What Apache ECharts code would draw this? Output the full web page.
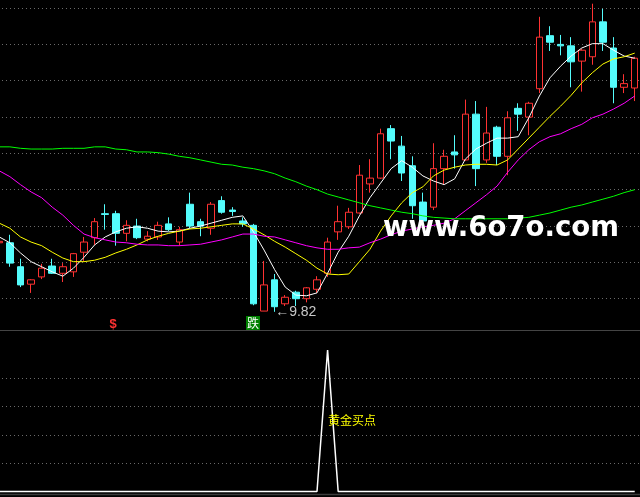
<!DOCTYPE html>
<html><head><meta charset="utf-8">
<script src="https://cdn.jsdelivr.net/npm/echarts@6/dist/echarts.min.js"></script>
<style>html,body{margin:0;padding:0;background:#000;overflow:hidden;width:640px;height:497px;}
#c{position:absolute;left:-6px;top:0;width:646px;height:497px;}</style>
</head><body><div id="c"></div>
<script>
const categories = ['1','2','3','4','5','6','7','8','9','10','11','12','13','14','15','16','17','18','19','20',
'21','22','23','24','25','26','27','28','29','30','31','32','33','34','35','36','37','38','39','40',
'41','42','43','44','45','46','47','48','49','50','51','52','53','54','55','56','57','58','59','60','61'];
// [open, close, low, high]
const candles = [
[10.77,10.79,10.75,10.81],[10.77,10.49,10.44,10.88],[10.44,10.19,10.16,10.55],[10.20,10.26,10.08,10.27],
[10.30,10.42,10.27,10.48],[10.45,10.35,10.34,10.55],[10.35,10.44,10.23,10.49],[10.37,10.62,10.30,10.63],
[10.64,10.78,10.52,10.85],[10.84,11.06,10.74,11.11],[11.17,11.16,10.95,11.30],[11.17,10.90,10.73,11.21],
[10.90,11.01,10.79,11.08],[11.00,10.84,10.82,11.10],[10.82,10.86,10.79,10.93],[10.85,11.01,10.81,11.06],
[11.03,10.95,10.93,11.12],[10.78,10.95,10.73,10.99],[11.30,11.00,10.97,11.46],[11.06,11.00,10.86,11.10],
[10.97,11.30,10.88,11.33],[11.35,11.19,11.17,11.41],[11.22,11.20,11.14,11.26],[11.07,11.03,10.99,11.12],
[11.01,9.93,9.91,11.03],[9.83,10.19,9.83,10.52],[10.26,9.89,9.82,10.34],[9.93,10.02,9.90,10.05],
[10.09,10.00,9.90,10.11],[10.00,10.15,9.95,10.16],[10.13,10.26,10.08,10.31],[10.35,10.78,10.30,10.84],
[10.92,11.06,10.81,11.28],[10.99,11.19,10.96,11.25],[11.18,11.70,11.17,11.84],[11.58,11.66,11.46,11.92],
[11.66,12.27,11.65,12.34],[12.34,12.17,11.92,12.39],[12.10,11.73,11.62,12.24],[11.83,11.28,11.10,11.96],
[11.33,11.07,11.04,11.46],[11.26,11.79,11.22,12.14],[11.79,11.96,11.57,12.05],[12.02,11.98,11.79,12.25],
[11.91,12.54,11.90,12.74],[12.54,11.79,11.55,12.72],[11.91,12.28,11.87,12.64],[12.36,11.96,11.84,12.38],
[11.96,12.49,11.70,12.58],[12.62,12.54,12.31,12.69],[12.50,12.69,12.25,12.71],[12.89,13.60,12.83,13.88],
[13.62,13.53,13.41,13.75],[13.50,13.48,13.35,13.63],[13.48,13.26,12.91,13.60],[13.27,13.42,12.85,13.44],
[13.33,13.81,13.22,14.06],[13.81,13.53,13.41,13.99],[13.45,12.91,12.69,13.60],[12.91,12.96,12.83,13.09],
[12.90,13.31,12.72,13.33]
];
const ma5 = [10.85,10.77,10.63,10.51,10.44,10.37,10.31,10.42,10.57,10.74,
10.85,10.92,10.97,10.99,10.97,10.93,10.92,10.93,10.97,11.00,
11.04,11.08,11.12,11.14,10.92,10.67,10.40,10.16,10.05,10.04,
10.08,10.35,10.64,10.86,11.14,11.39,11.59,11.79,11.90,11.81,
11.69,11.62,11.57,11.65,11.92,12.06,12.14,12.21,12.21,12.23,
12.49,12.79,13.04,13.20,13.34,13.45,13.51,13.51,13.42,13.34,13.31];
const ma10 = [11.04,10.97,10.85,10.78,10.73,10.64,10.56,10.51,10.51,10.53,
10.57,10.63,10.68,10.74,10.81,10.86,10.90,10.93,10.96,10.97,
10.99,11.01,11.03,11.03,10.96,10.88,10.79,10.71,10.62,10.53,
10.42,10.34,10.33,10.34,10.51,10.68,10.93,11.14,11.32,11.46,
11.54,11.69,11.77,11.81,11.84,11.85,11.85,11.84,11.91,12.06,
12.21,12.36,12.51,12.65,12.80,12.97,13.11,13.23,13.30,13.33,13.38];
const ma20 = [11.76,11.68,11.57,11.47,11.39,11.26,11.15,11.01,10.89,10.84,
10.81,10.78,10.77,10.75,10.74,10.74,10.73,10.73,10.74,10.75,
10.78,10.81,10.85,10.89,10.89,10.86,10.85,10.81,10.77,10.73,
10.70,10.68,10.68,10.70,10.71,10.77,10.82,10.88,10.93,10.96,
10.99,11.01,11.04,11.10,11.21,11.32,11.43,11.55,11.74,11.91,
12.05,12.16,12.23,12.27,12.34,12.40,12.49,12.54,12.61,12.69,12.79];
const ma60 = [12.09,12.09,12.07,12.06,12.06,12.06,12.07,12.07,12.07,12.09,
12.09,12.06,12.05,12.02,12.02,12.01,11.99,11.96,11.94,11.91,
11.88,11.85,11.84,11.81,11.79,11.76,11.72,11.66,11.61,11.55,
11.50,11.44,11.40,11.36,11.32,11.28,11.25,11.22,11.19,11.17,
11.14,11.12,11.11,11.10,11.10,11.10,11.10,11.10,11.10,11.11,
11.12,11.15,11.18,11.22,11.26,11.29,11.33,11.37,11.41,11.46,11.50];
const signal = [0,0,0,0,0,0,0,0,0,0,
0,0,0,0,0,0,0,0,0,0,
0,0,0,0,0,0,0,0,0,0,
0,100,0,0,0,0,0,0,0,0,
0,0,0,0,0,0,0,0,0,0,
0,0,0,0,0,0,0,0,0,0,0];
const lowLabel = '9.82';
const lowIndex = 26;
const signalText = '黄金买点';
const signalIndex = 31;
const signalTextLevel = 50;

const chart = echarts.init(document.getElementById('c'), null, {renderer: 'canvas'});
const dotted = {color: '#6a6a6a', type: [1, 3], width: 1};
const hiddenX = (gi) => ({type: 'category', gridIndex: gi, data: categories, boundaryGap: true,
  axisLine: {show: false}, axisTick: {show: false}, axisLabel: {show: false}, splitLine: {show: false}});
const maLine = (name, data, color) => ({name, type: 'line', data, xAxisIndex: 0, yAxisIndex: 0,
  symbol: 'none', smooth: false, lineStyle: {color, width: 1}, z: 3, silent: true});

chart.setOption({
  animation: false,
  backgroundColor: '#000000',
  grid: [
    {left: 0, width: 646, top: 0.8, height: 334.25},
    {left: 0, width: 646, top: 350, height: 141.5}
  ],
  xAxis: [hiddenX(0), hiddenX(1)],
  yAxis: [
    {type: 'value', gridIndex: 0, min: 9.5, max: 14.1, interval: 0.5,
     axisLine: {show: false}, axisTick: {show: false}, axisLabel: {show: false},
     splitLine: {show: true, showMinLine: false, showMaxLine: false, lineStyle: dotted}},
    {type: 'value', gridIndex: 1, min: 0, max: 100, interval: 20,
     axisLine: {show: false}, axisTick: {show: false}, axisLabel: {show: false},
     splitLine: {show: true, showMinLine: false, showMaxLine: false, lineStyle: dotted}}
  ],
  series: [
    {type: 'candlestick', data: candles, xAxisIndex: 0, yAxisIndex: 0, barWidth: 7, z: 2,
     itemStyle: {color: '#000000', borderColor: '#ff3232', color0: '#54fcfc', borderColor0: '#54fcfc', borderWidth: 1},
     markPoint: {symbol: 'rect', symbolSize: 1, itemStyle: {color: 'rgba(0,0,0,0)'},
       data: [{coord: [categories[lowIndex], candles[lowIndex][2]],
         label: {show: true, position: 'right', distance: 0, formatter: '←' + lowLabel,
           color: '#c8c8c8', fontSize: 14, fontFamily: 'Liberation Sans'}}]}},
    maLine('MA5', ma5, '#ffffff'),
    maLine('MA10', ma10, '#ffff00'),
    maLine('MA20', ma20, '#ff00ff'),
    maLine('MA60', ma60, '#00ff00'),
    {type: 'line', data: signal, xAxisIndex: 1, yAxisIndex: 1, symbol: 'none', clip: false,
     lineStyle: {color: '#ffffff', width: 1.5},
     markPoint: {symbol: 'rect', symbolSize: 1, itemStyle: {color: 'rgba(0,0,0,0)'},
       data: [{coord: [categories[signalIndex], signalTextLevel],
         label: {show: true, position: 'right', distance: 0, formatter: signalText,
           color: '#ffff00', fontSize: 12, fontFamily: 'Noto Sans CJK SC'}}]}}
  ],
  graphic: [
    {type: 'line', shape: {x1: 0, y1: 330.5, x2: 646, y2: 330.5}, style: {stroke: '#444444', lineWidth: 1}, z: 1},
    {type: 'line', shape: {x1: 0, y1: 494.5, x2: 646, y2: 494.5}, style: {stroke: '#3c3c3c', lineWidth: 1.5}, z: 1},
    {type: 'text', x: 119, y: 324, z: 10,
     style: {text: '$', fill: '#ff3232', font: 'bold 13px "Liberation Sans"', align: 'center', verticalAlign: 'middle'}},
    {type: 'rect', shape: {x: 252, y: 316, width: 14, height: 14}, style: {fill: '#008000'}, z: 10},
    {type: 'text', x: 259, y: 323, z: 11,
     style: {text: '跌', fill: '#ffffff', font: '12px "Noto Sans CJK SC"', align: 'center', verticalAlign: 'middle'}},
    {type: 'text', x: 389, y: 229, z: 20,
     style: {text: 'www.6o7o.com', fill: '#ffffff', font: 'bold 27.6px "DejaVu Sans"', align: 'left', verticalAlign: 'middle'}}
  ]
});
</script></body></html>
